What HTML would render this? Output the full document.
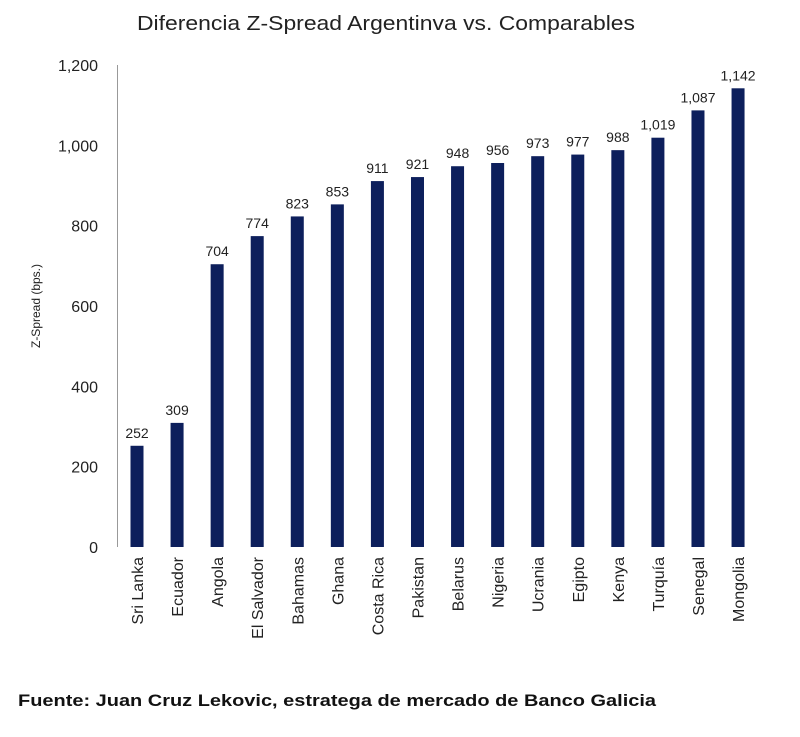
<!DOCTYPE html>
<html><head><meta charset="utf-8">
<style>
html,body{margin:0;padding:0;background:#fff;width:800px;height:737px;overflow:hidden}
svg text{font-family:"Liberation Sans",sans-serif}
</style></head>
<body>
<svg id="chart" width="800" height="737">
<text x="137" y="30" font-size="20" fill="#222" textLength="498" lengthAdjust="spacingAndGlyphs">Diferencia Z-Spread Argentinva vs. Comparables</text>
<text transform="translate(40,306) rotate(-90)" text-anchor="middle" font-size="12" fill="#222">Z-Spread (bps.)</text>
<line x1="117.5" y1="65" x2="117.5" y2="547" stroke="#999" stroke-width="1"/>
<g id="yticks"></g>
<g id="bars"></g>
<text x="18" y="706" font-size="17" font-weight="bold" fill="#111" textLength="638" lengthAdjust="spacingAndGlyphs">Fuente: Juan Cruz Lekovic, estratega de mercado de Banco Galicia</text>
</svg>
<script>
const categories=["Sri Lanka","Ecuador","Angola","El Salvador","Bahamas","Ghana","Costa Rica","Pakistan","Belarus","Nigeria","Ucrania","Egipto","Kenya","Turquía","Senegal","Mongolia"];
const values=[252,309,704,774,823,853,911,921,948,956,973,977,988,1019,1087,1142];
const valueLabels=["252","309","704","774","823","853","911","921","948","956","973","977","988","1,019","1,087","1,142"];
const tickValues=[0,200,400,600,800,1000,1200];
const tickLabels=["0","200","400","600","800","1,000","1,200"];
const NS="http://www.w3.org/2000/svg";
const y0=547,yTop=65,yMax=1200;
function yScale(v){return y0-(v/yMax)*(y0-yTop);}
function xScale(i){return 137+i*40.07;}
const yt=document.getElementById('yticks');
tickValues.forEach((v,i)=>{
 const t=document.createElementNS(NS,'text');
 
 
 t.setAttribute('x',98);t.setAttribute('y',yScale(v)+6);
 t.setAttribute('text-anchor','end');t.setAttribute('font-size','16');t.setAttribute('fill','#222');
 t.textContent=tickLabels[i];yt.appendChild(t);
});
const bg=document.getElementById('bars');
categories.forEach((c,i)=>{
 const x=xScale(i),y=yScale(values[i]);
 const r=document.createElementNS(NS,'rect');
 
 
 r.setAttribute('x',x-6.5);r.setAttribute('y',y);r.setAttribute('width',13);r.setAttribute('height',y0-y);r.setAttribute('fill','#0d1f5c');
 bg.appendChild(r);
 const v=document.createElementNS(NS,'text');
 
 
 v.setAttribute('x',x);v.setAttribute('y',y-8);v.setAttribute('text-anchor','middle');v.setAttribute('font-size','14');v.setAttribute('fill','#222');
 v.textContent=valueLabels[i];bg.appendChild(v);
 const l=document.createElementNS(NS,'text');
 
 
 l.setAttribute('transform','translate('+(x+6)+',557) rotate(-90)');
 l.setAttribute('text-anchor','end');l.setAttribute('font-size','16');l.setAttribute('fill','#222');
 l.textContent=c;bg.appendChild(l);
});
</script>
</body></html>
